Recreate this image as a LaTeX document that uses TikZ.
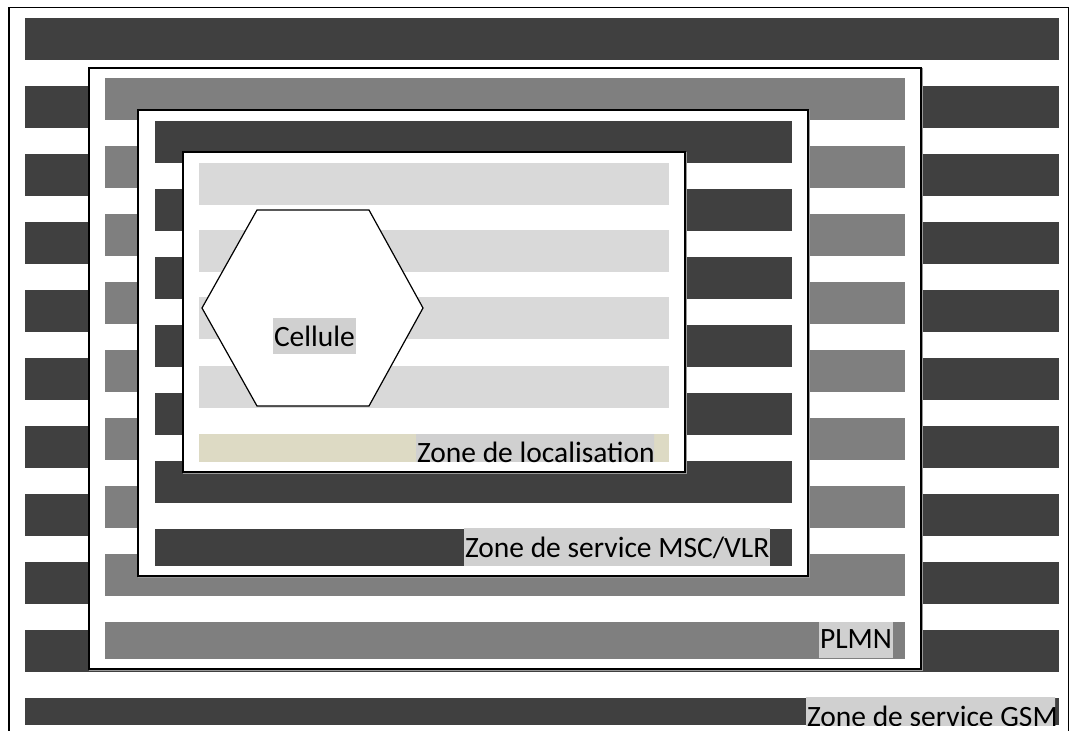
\documentclass[tikz,border=0pt]{standalone}
\usepackage{fontspec}
\setmainfont{Carlito}
\definecolor{stripeDark}{HTML}{404040}
\definecolor{stripeMid}{HTML}{7F7F7F}
\definecolor{stripeLight}{HTML}{D9D9D9}
\definecolor{stripeBeige}{HTML}{DDDAC4}
\definecolor{tagGray}{HTML}{D0D0D0}
\begin{document}
\begin{tikzpicture}[x=1pt,y=-1pt,
  zoneframe/.style={draw=black, line width=1.6pt, fill=white},
  zoneshadow/.style={draw=black!40, line width=1.2pt},
  tagbox/.style={fill=tagGray, inner xsep=1pt, inner ysep=0pt, outer sep=0pt,
    text height=28pt, text depth=9pt, anchor=base west,
    font=\fontsize{29.5}{34}\selectfont},
]
\useasboundingbox (0,0) rectangle (1069,731);
\clip (0,0) rectangle (1069,731);

% GSM service area: outer frame and dark bands
\draw[line width=1.4pt] (9,7.5) rectangle (1068.3,760);
\foreach \k in {0,...,9}
  \fill[stripeDark] (25,{18+68*\k}) rectangle (1059,{60+68*\k});
\fill[stripeDark] (25,698) rectangle (1059,725);
\begin{scope}
  \clip (806,697) rectangle (1055,725);
  \node[tagbox, text height=30pt, text depth=0pt] (gsm) at (806,726) {Zone de service GSM};
\end{scope}

% PLMN
\draw[zoneshadow] (90,69) rectangle (922,670);
\draw[zoneframe] (89,68) rectangle (921,669);
\foreach \k in {0,...,7}
  \fill[stripeMid] (105,{78+68*\k}) rectangle (905,{120+68*\k});
\fill[stripeMid] (105,622) rectangle (905,659);
\node[tagbox, text height=26pt, text depth=10pt] (plmn) at (819,648) {PLMN};

% MSC/VLR service area
\draw[zoneshadow] (139,111) rectangle (809,577);
\draw[zoneframe] (138,110) rectangle (808,576);
\foreach \k in {0,...,5}
  \fill[stripeDark] (155,{121+68*\k}) rectangle (792,{163+68*\k});
\fill[stripeDark] (155,529) rectangle (792,566);
\node[tagbox, text height=29pt, text depth=9pt] (msc) at (464,557) {Zone de service MSC/VLR};

% Location area
\draw[zoneshadow] (184,153) rectangle (686,473);
\draw[zoneframe] (183,152) rectangle (685,472);
\foreach \y in {163,230,297,366}
  \fill[stripeLight] (199,\y) rectangle (669,\y+42);
\fill[stripeBeige] (199,434) rectangle (669,462);
\begin{scope}
  \clip (416,434) rectangle (654,462);
  \node[tagbox, text height=29pt, text depth=0pt] (la) at (416,462) {Zone de localisation};
\end{scope}

% Cell
\draw[line width=1.2pt, fill=white]
  (257,210) -- (369,210) -- (423,308) -- (369,406) -- (257,406) -- (202,308) -- cycle;
\node[tagbox, text height=28pt, text depth=8pt] (cell) at (273,346) {Cellule};
\end{tikzpicture}
\end{document}
